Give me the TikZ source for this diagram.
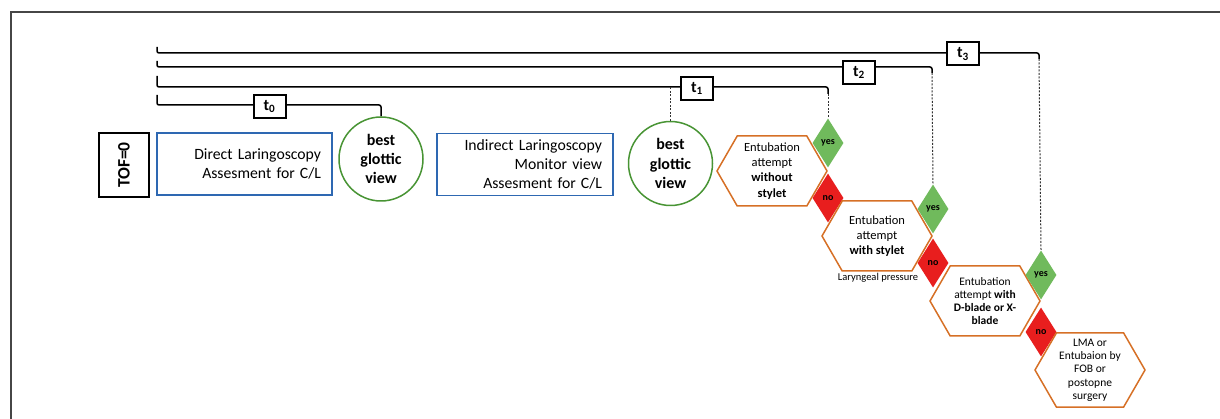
\documentclass[tikz,border=0pt]{standalone}
\usepackage{fontspec}
\setmainfont{Carlito}
\usetikzlibrary{shapes.geometric,shapes.symbols}

\definecolor{boxblue}{RGB}{46,104,178}
\definecolor{viewgreen}{RGB}{72,148,52}
\definecolor{hexorange}{RGB}{214,112,38}
\definecolor{yesgreen}{RGB}{112,186,92}
\definecolor{nored}{RGB}{232,30,30}
\definecolor{framegrey}{RGB}{70,70,70}

\tikzset{
  scopebox/.style={draw=boxblue,line width=1.5,minimum height=62,inner xsep=11,
    align=right,font=\fontsize{15.7}{18.7}\selectfont},
  viewcircle/.style={circle,draw=viewgreen,line width=1.5,minimum size=84,inner sep=0,
    align=center,font=\fontsize{16}{19.3}\selectfont\bfseries},
  attempthex/.style={signal,signal to=west and east,signal pointer angle=120,
    draw=hexorange,line width=1.5,minimum width=110,minimum height=70,inner sep=1,
    align=center,font=\fontsize{12.5}{15.2}\selectfont},
  smallhex/.style={attempthex,font=\fontsize{11.5}{13.3}\selectfont},
  yesdia/.style={diamond,fill=yesgreen,minimum width=31,minimum height=49,inner sep=0,
    font=\fontsize{10}{11}\selectfont\bfseries},
  nodia/.style={yesdia,fill=nored},
  timebox/.style={draw,line width=2,fill=white,minimum width=32,minimum height=23,inner sep=0,
    font=\fontsize{16}{17}\selectfont\bfseries},
  bracket/.style={line width=1.5,rounded corners=2},
  guide/.style={line width=1,black!80,dash pattern=on 2pt off 1.5pt},
}

\begin{document}
\begin{tikzpicture}[x=1pt,y=1pt,yscale=-1]
  \useasboundingbox (0,0) rectangle (1220,419);
  % frame
  \draw[framegrey,line width=1.5] (11,419) -- (11,12) -- (1220,12);

  % main row
  \node[draw,line width=2.5,minimum width=50,minimum height=64,inner sep=0] (tof) at (124,165)
    {\rotatebox{90}{\fontsize{17.5}{18}\selectfont\bfseries TOF=0}};
  \node[scopebox,minimum width=175,text width=153] (dl) at (244.5,164) {Direct Laringoscopy\\Assesment for C/L};
  \node[viewcircle] (c1) at (381,159) {best\\glottic\\view};
  \node[scopebox,minimum width=176,text width=154] (il) at (525,164.5) {Indirect Laringoscopy\\Monitor view\\Assesment for C/L};
  \node[viewcircle] (c2) at (670.5,163.5) {best\\glottic\\view};

  % attempts
  \node[attempthex] (h1) at (772,171) {Entubation\\attempt\\\textbf{without}\\\textbf{stylet}};
  \node[yesdia] (y1) at (828,143) {yes};
  \node[nodia] (n1) at (828,198) {no};
  \node[attempthex] (h2) at (877,236) {Entubation\\attempt\\\textbf{with stylet}};
  \node[font=\fontsize{10.5}{11}\selectfont] (lp) at (878,278) {Laryngeal pressure};
  \node[yesdia] (y2) at (933,209) {yes};
  \node[nodia] (n2) at (933,263) {no};
  \node[smallhex] (h3) at (985,301) {Entubation\\attempt \textbf{with}\\\textbf{D-blade or X-}\\\textbf{blade}};
  \node[yesdia] (y3) at (1041,275) {yes};
  \node[nodia] (n3) at (1041,332) {no};
  \node[smallhex,minimum height=74] (h4) at (1090,370) {LMA or\\Entubaion by\\FOB or\\postopne\\surgery};

  % time brackets
  \coordinate (k3) at (157,53);
  \coordinate (k2) at (157,67);
  \coordinate (k1) at (157,87);
  \coordinate (k0) at (157,105);
  \coordinate (r3) at (1039,59);
  \coordinate (r2) at (932,73);
  \coordinate (r1) at (828,94);
  \draw[bracket] ([yshift=-6]k3) -- (k3) -| (r3);
  \draw[bracket] ([yshift=-6]k2) -- (k2) -| (r2);
  \draw[bracket] ([yshift=-11]k1) -- (k1) -| (r1);
  \draw[bracket] ([yshift=-10]k0) -- (k0) -| (c1.north);
  \draw[guide] (r3) -- (y3.north);
  \draw[guide] (r2) -- (y2.north);
  \draw[guide] (r1) -- (y1.north);
  \draw[guide] (c2.north) -- (c2.north |- k1);

  \node[timebox] (t0) at (269.5,106.5) {t\textsubscript{0}};
  \node[timebox] (t1) at (697,88.5) {t\textsubscript{1}};
  \node[timebox] (t2) at (859,72.5) {t\textsubscript{2}};
  \node[timebox] (t3) at (963,54) {t\textsubscript{3}};
\end{tikzpicture}
\end{document}
